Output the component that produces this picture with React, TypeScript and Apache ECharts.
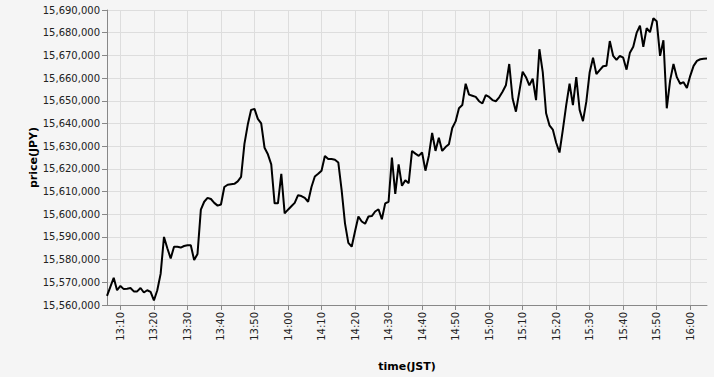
import React, { useEffect, useRef } from "react";
import * as echarts from "echarts";

const startHour = 13;
const startMinute = 6;

const prices: number[] = [
  15564000, 15568000, 15572000, 15566500, 15568400, 15567000, 15567200, 15567500, 15566000, 15566000,
  15567500, 15565500, 15566500, 15565800, 15562000, 15566500, 15573700, 15590000, 15585000, 15580500,
  15585700, 15585700, 15585300, 15586000, 15586300, 15586300, 15579800, 15582500, 15602000, 15605500,
  15607200, 15606700, 15605000, 15603800, 15604300, 15612000, 15613000, 15613200, 15613400, 15614500,
  15616500, 15631000, 15639500, 15646000, 15646400, 15642000, 15640000, 15629300, 15626400, 15622000,
  15604800, 15604800, 15617800, 15600400, 15602000, 15603500, 15605000, 15608400, 15608000, 15607200,
  15605500, 15612000, 15616600, 15617800, 15619200, 15625700, 15624300, 15624300, 15624000, 15622800,
  15610600, 15596000, 15587400, 15585700, 15592500, 15599000, 15596800, 15595800, 15599000, 15599200,
  15601200, 15602200, 15597800, 15604800, 15605500, 15625000, 15609000, 15622000, 15612500, 15615000,
  15613700, 15627900, 15626700, 15625700, 15627200, 15619200, 15625700, 15635800, 15627900, 15633700,
  15627900, 15629600, 15630800, 15638000, 15640900, 15646700, 15648100, 15657500, 15652700, 15652200,
  15651700, 15649800, 15648800, 15652500, 15651700, 15650300, 15649800, 15651500, 15654000, 15656800,
  15666200, 15651000, 15645200, 15653900, 15662800, 15660400, 15656800, 15659700, 15650300, 15672700,
  15662600, 15644500, 15639200, 15637300, 15631500, 15627200, 15637300, 15648100, 15657500, 15648100,
  15660400, 15646000, 15641000, 15649600, 15662600, 15669000, 15661800, 15663500, 15665200, 15665400,
  15676300, 15669800, 15668000, 15669800, 15669000, 15663700, 15671200, 15673800, 15679900, 15683100,
  15673800, 15682000, 15680200, 15686400, 15685000, 15669800, 15676700, 15646700, 15659000, 15666200,
  15660400, 15657500, 15658200, 15655600, 15661000, 15665400, 15667600, 15668300, 15668500, 15668600,
];

const times: string[] = prices.map((_, i) => {
  const total = startHour * 60 + startMinute + i;
  const h = Math.floor(total / 60);
  const m = total % 60;
  return `${h}:${m < 10 ? "0" + m : m}`;
});

const yMin = 15560000;
const yMax = 15690000;
const yStep = 10000;

const isTenMinute = (index: number, value: string) => value.endsWith("0");

export default function App() {
  const ref = useRef<HTMLDivElement>(null);

  useEffect(() => {
    document.body.style.margin = "0";
    document.body.style.background = "#f5f5f5";
    if (!ref.current) return;
    const chart = echarts.init(ref.current, undefined, { renderer: "svg" });
    const font = "DejaVu Sans";
    chart.setOption({
      animation: false,
      backgroundColor: "#f5f5f5",
      grid: { left: 107, right: 7, top: 10, bottom: 67, containLabel: false },
      xAxis: {
        type: "category",
        data: times,
        boundaryGap: false,
        name: "time(JST)",
        nameLocation: "middle",
        nameGap: 56,
        nameMoveOverlap: false,
        nameTextStyle: { fontFamily: font, fontSize: 11, fontWeight: "bold", color: "#000" },
        axisLine: { show: true, lineStyle: { color: "#888", width: 1 } },
        axisTick: {
          show: true,
          interval: isTenMinute,
          length: 5,
          lineStyle: { color: "#888" },
        },
        axisLabel: {
          interval: isTenMinute,
          rotate: 90,
          fontFamily: font,
          fontSize: 10,
          color: "#222",
          margin: 7,
        },
        splitLine: { show: true, interval: isTenMinute, lineStyle: { color: "#ddd", width: 1 } },
      },
      yAxis: {
        type: "value",
        min: yMin,
        max: yMax,
        interval: yStep,
        name: "price(JPY)",
        nameLocation: "middle",
        nameGap: 68,
        nameMoveOverlap: false,
        nameTextStyle: { fontFamily: font, fontSize: 11, fontWeight: "bold", color: "#000" },
        axisLine: { show: true, lineStyle: { color: "#888", width: 1 } },
        axisTick: { show: true, length: 5, lineStyle: { color: "#888" } },
        axisLabel: {
          fontFamily: font,
          fontSize: 10,
          color: "#222",
          margin: 7,
          formatter: (v: number) => v.toLocaleString("en-US"),
        },
        splitLine: { show: true, lineStyle: { color: "#ddd", width: 1 } },
      },
      series: [
        {
          type: "line",
          data: prices,
          showSymbol: false,
          symbol: "none",
          lineStyle: { color: "#000", width: 2 },
        },
      ],
    });
    return () => chart.dispose();
  }, []);

  return <div ref={ref} style={{ width: 714, height: 377 }} />;
}
